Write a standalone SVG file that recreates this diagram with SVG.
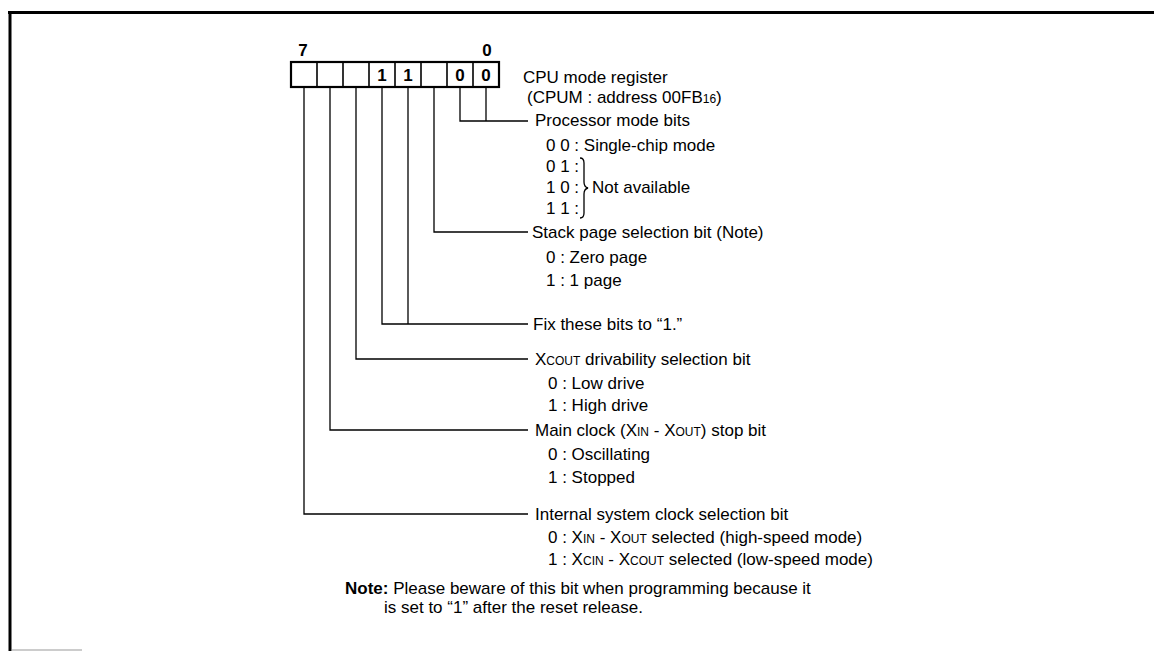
<svg xmlns="http://www.w3.org/2000/svg" width="1154" height="651" viewBox="0 0 1154 651">
<style>
text{font-family:"Liberation Sans",Arial,sans-serif;font-size:17px;fill:#000}
.sm{font-size:12px}
.b{font-weight:bold}
.ln{stroke:#000;stroke-width:1.3;fill:none}
.reg{stroke:#000;stroke-width:2.2;fill:#fff}
.div{stroke:#000;stroke-width:1.6}
</style>
<rect width="1154" height="651" fill="#fff"/>
<g id="frame">
<line x1="8" y1="12.5" x2="1154" y2="12.5" stroke="#000" stroke-width="3"/>
<line x1="10" y1="11" x2="10" y2="651" stroke="#000" stroke-width="3"/>
<line x1="12" y1="650" x2="82" y2="650" stroke="#999" stroke-width="1"/>
</g>
<g id="register">
<text x="303" y="56" text-anchor="middle" class="b">7</text>
<text x="487" y="56" text-anchor="middle" class="b">0</text>
<rect class="reg" x="291" y="62" width="208" height="25"/>
<line class="div" x1="317" y1="62" x2="317" y2="87"/>
<line class="div" x1="343" y1="62" x2="343" y2="87"/>
<line class="div" x1="369" y1="62" x2="369" y2="87"/>
<line class="div" x1="395" y1="62" x2="395" y2="87"/>
<line class="div" x1="421" y1="62" x2="421" y2="87"/>
<line class="div" x1="447" y1="62" x2="447" y2="87"/>
<line class="div" x1="473" y1="62" x2="473" y2="87"/>
<text x="382" y="81" text-anchor="middle" class="b">1</text>
<text x="408" y="81" text-anchor="middle" class="b">1</text>
<text x="460" y="81" text-anchor="middle" class="b">0</text>
<text x="486" y="81" text-anchor="middle" class="b">0</text>
<text x="523" y="83">CPU mode register</text>
<text x="527" y="103">(CPUM : address 00FB<tspan class="sm">16</tspan>)</text>
</g>
<g id="connectors">
<polyline class="ln" points="486,87 486,121"/>
<polyline class="ln" points="460,87 460,121 528,121"/>
<polyline class="ln" points="434,87 434,232 528,232"/>
<polyline class="ln" points="408,87 408,324"/>
<polyline class="ln" points="382,87 382,324 528,324"/>
<polyline class="ln" points="356,87 356,359 528,359"/>
<polyline class="ln" points="330,87 330,430 528,430"/>
<polyline class="ln" points="304,87 304,514 528,514"/>
</g>
<g id="processor-mode">
<text x="535" y="126">Processor mode bits</text>
<text x="546" y="151">0 0 : Single-chip mode</text>
<text x="546" y="172">0 1 :</text>
<text x="546" y="193">1 0 :</text>
<text x="546" y="214">1 1 :</text>
<path class="ln" d="M580,158 Q584,158 584,163 L584,182 Q584,187 588,188 Q584,189 584,194 L584,213 Q584,218 580,218"/>
<text x="592" y="193">Not available</text>
</g>
<g id="stack-page">
<text x="532" y="238">Stack page selection bit (Note)</text>
<text x="546" y="263">0 : Zero page</text>
<text x="546" y="286">1 : 1 page</text>
</g>
<g id="fix-bits">
<text x="533" y="330">Fix these bits to “1.”</text>
</g>
<g id="xcout-drive">
<text x="535" y="365">X<tspan class="sm">COUT</tspan> drivability selection bit</text>
<text x="548" y="389">0 : Low drive</text>
<text x="548" y="411">1 : High drive</text>
</g>
<g id="main-clock">
<text x="535" y="436">Main clock (X<tspan class="sm">IN</tspan> - X<tspan class="sm">OUT</tspan>) stop bit</text>
<text x="548" y="460">0 : Oscillating</text>
<text x="548" y="483">1 : Stopped</text>
</g>
<g id="system-clock">
<text x="535" y="520">Internal system clock selection bit</text>
<text x="548" y="543">0 : X<tspan class="sm">IN</tspan> - X<tspan class="sm">OUT</tspan> selected (high-speed mode)</text>
<text x="548" y="565">1 : X<tspan class="sm">CIN</tspan> - X<tspan class="sm">COUT</tspan> selected (low-speed mode)</text>
</g>
<g id="note">
<text x="345" y="594"><tspan class="b">Note:</tspan> Please beware of this bit when programming because it</text>
<text x="384" y="613">is set to “1” after the reset release.</text>
</g>
</svg>
